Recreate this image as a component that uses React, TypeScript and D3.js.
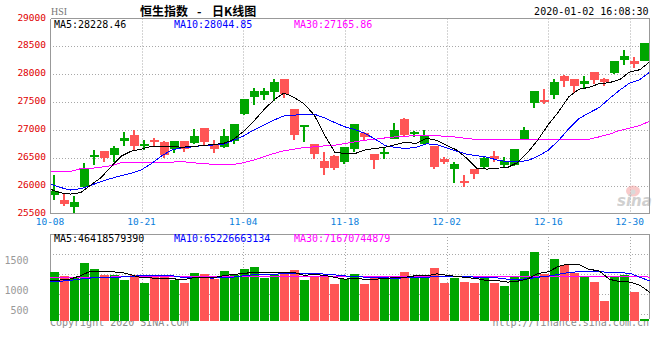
import * as d3 from 'd3';

// trading days shown on the K chart
const dates = [
  '10-08','10-09','10-10','10-11','10-14','10-15','10-16','10-17','10-18','10-21',
  '10-22','10-23','10-24','10-25','10-28','10-29','10-30','10-31','11-01','11-04',
  '11-05','11-06','11-07','11-08','11-11','11-12','11-13','11-14','11-15','11-18',
  '11-19','11-20','11-21','11-22','11-25','11-26','11-27','11-28','11-29','12-02',
  '12-03','12-04','12-05','12-06','12-09','12-10','12-11','12-12','12-13','12-16',
  '12-17','12-18','12-19','12-20','12-23','12-24','12-27','12-30','12-31','01-02',
];

const openPx = [
  25839,25750,25631,25988,26535,26625,26560,26809,26911,26726,
  26827,26786,26655,26804,26774,27036,26762,26702,26804,27292,
  27595,27631,27685,27911,27375,27065,26762,26446,26536,26435,
  26667,26952,26583,26590,26851,27196,26945,26762,26714,26488,
  26304,26065,26298,26345,26536,26375,26381,26833,27488,27536,
  27631,27964,27911,27827,28036,27917,28024,28256,28244,28238,
];
const highPx = [
  26196,25857,25821,26417,26643,26625,26714,26970,27000,26833,
  26869,26815,26815,26804,27018,27036,26821,27018,27120,27560,
  27756,27756,27911,27911,27375,27083,26762,26607,26554,26696,
  27107,26970,26583,26702,27125,27215,26990,27000,26714,26524,
  26429,26196,26298,26536,26625,26524,26661,27054,27696,27732,
  27911,27988,27911,27964,28036,27935,28232,28435,28310,28554,
];
const lowPx = [
  25750,25649,25524,25958,26375,26435,26435,26714,26643,26643,
  26702,26494,26595,26607,26750,26732,26595,26690,26762,27280,
  27458,27548,27530,27577,26833,26792,26476,26202,26292,26399,
  26607,26821,26310,26488,26845,26905,26880,26762,26310,26399,
  26060,25988,26131,26298,26435,26345,26357,26833,27399,27470,
  27560,27774,27667,27738,27821,27792,28000,28167,28113,28238,
];
const closePx = [
  25911,25684,25714,26327,26545,26506,26679,26863,26720,26734,
  26786,26565,26804,26667,26893,26792,26667,26905,27107,27554,
  27696,27696,27857,27643,26917,27075,26571,26327,26327,26696,
  27107,26881,26470,26600,27000,26911,26955,26893,26345,26435,
  26393,26055,26220,26500,26488,26446,26661,27000,27696,27500,
  27857,27881,27792,27875,27905,27863,28232,28321,28185,28554,
];

const ma5 = [
  25946,25881,25857,25881,26018,26149,26345,26536,26625,26661,
  26714,26708,26708,26696,26708,26726,26744,26760,26830,26975,
  27155,27360,27540,27667,27589,27470,27268,26911,26607,26583,
  26583,26649,26673,26696,26744,26786,26762,26857,26821,26732,
  26643,26494,26315,26304,26321,26333,26423,26607,26833,27101,
  27327,27595,27732,27768,27833,27851,27905,28042,28083,28228,
];
const ma10 = [
  26036,25976,25929,25952,26012,26077,26137,26185,26232,26292,
  26405,26542,26649,26684,26702,26726,26735,26744,26815,26893,
  27000,27089,27179,27256,27268,27286,27286,27220,27137,27060,
  27012,26940,26839,26720,26690,26673,26696,26756,26744,26684,
  26625,26571,26542,26518,26464,26435,26435,26458,26536,26643,
  26815,27024,27208,27310,27405,27565,27714,27845,27905,28045,
];
const ma30 = [
  26262,26262,26262,26310,26315,26339,26363,26417,26423,26423,
  26423,26429,26429,26440,26417,26405,26390,26387,26387,26417,
  26464,26524,26583,26631,26661,26690,26702,26720,26732,26762,
  26792,26821,26839,26863,26881,26893,26905,26905,26899,26893,
  26875,26851,26833,26830,26828,26826,26828,26830,26833,26833,
  26830,26828,26830,26839,26881,26929,26994,27036,27083,27166,
];

// turnover, 亿
const volume = [
  805,739,713,951,854,746,751,669,746,620,
  723,713,669,620,783,767,690,816,746,849,
  881,697,751,788,832,669,734,713,609,685,
  767,609,739,685,739,805,739,702,870,625,
  702,641,625,707,625,576,713,821,1131,772,
  1017,914,778,739,641,331,723,751,478,33,
];
const volMa5 = [
  658,669,685,739,813,801,803,795,752,707,
  702,694,694,669,702,710,707,736,761,774,
  796,798,785,793,790,747,756,747,712,682,
  702,677,682,697,708,715,741,734,770,747,
  728,708,692,659,659,635,650,689,774,803,
  891,930,922,844,818,681,643,636,584,464,
];
const volMa10 = [
  636,648,664,685,702,707,710,718,726,745,
  745,745,740,712,703,707,700,715,715,738,
  754,752,761,777,782,772,777,765,752,736,
  725,716,715,705,695,708,710,708,734,728,
  721,725,713,715,703,681,679,690,716,731,
  762,790,806,809,811,787,787,780,715,652,
];
const volMa30 = [
  713,714,714,716,717,718,718,719,720,720,
  721,721,722,722,723,723,724,724,725,725,
  726,726,727,727,727,728,728,728,728,728,
  727,727,726,726,726,725,725,725,726,726,
  725,725,724,724,723,722,722,722,724,725,
  727,729,730,731,731,727,726,725,722,717,
];

const priceTicks = [25500, 26000, 26500, 27000, 27500, 28000, 28500, 29000];
const dateTicks = ['10-08', '10-21', '11-04', '11-18', '12-02', '12-16', '12-30'];
const volTicks = [500, 1000, 1500];
const maLabels = ['MA5:28228.46', 'MA10:28044.85', 'MA30:27165.86'];
const volMaLabels = ['MA5:46418579390', 'MA10:65226663134', 'MA30:71670744879'];

const RED = '#ff5555';
const GREEN = '#00a600';
const MA_COLORS = ['#000000', '#0000ff', '#ff00ff'];
const GRID = '#a8a8a8';
const BORDER = '#999999';
const MONO = '"DejaVu Sans Mono", monospace';

const left = 50, right = 650;
const mainTop = 18.5, mainBottom = 214;
const volTop = 234, volBottom = 321;

export default function App() {
  const xBand = d3.scaleBand<string>().domain(dates).range([left, right]);
  const xPoint = d3.scalePoint<string>().domain(dates).range([left, right]);
  const py = d3.scaleLinear().domain([25500, 29000]).range([mainBottom, mainTop]);
  const vy = d3.scaleLinear().domain([0, 1420]).range([volBottom, volTop]);
  // sina's volume labels are not evenly spaced
  const volLabelY = d3.scaleLinear().domain([500, 1000, 1500]).range([310, 290, 260.3]);

  const bodyW = xBand.bandwidth() - 1;

  const priceLine = (vals: number[]) =>
    d3.line<number>().x((_, i) => xPoint(dates[i]) as number).y(v => py(v))(vals) || '';
  const volLine = (vals: number[]) =>
    d3.line<number>().x((_, i) => xPoint(dates[i]) as number).y(v => vy(v))(vals) || '';

  const gx = (d: string) => Math.round(xPoint(d) as number) + 0.5;

  return (
    <svg width={660} height={360} style={{ position: 'absolute', left: 0, top: 0, background: '#fff' }}>
      {/* footer texts, partly hidden by the volume panel */}
      <text x={left} y={326} fontFamily={MONO} fontSize={10} fill="#8a8a8a">Copyright 2020 SINA.COM</text>
      <text x={649} y={326} fontFamily={MONO} fontSize={10} fill="#8a8a8a" textAnchor="end">http://finance.sina.com.cn</text>

      {/* title row */}
      <text x={51} y={15} fontFamily='"Liberation Serif", serif' fontSize={11} fill="#777" textLength={16} lengthAdjust="spacingAndGlyphs">HSI</text>
      <text x={140} y={16} fontFamily='"Noto Sans CJK SC", sans-serif' fontSize={12} fontWeight="bold" fill="#000">恒生指数</text>
      <text x={197} y={16} fontFamily='"Noto Sans CJK SC", sans-serif' fontSize={12} fontWeight="bold" fill="#000">-</text>
      <text x={212} y={16} fontFamily='"Noto Sans CJK SC", sans-serif' fontSize={12} fontWeight="bold" fill="#000">日K线图</text>
      <text x={648.5} y={15} fontFamily={MONO} fontSize={10} fill="#000" textAnchor="end">2020-01-02 16:08:30</text>

      {/* main panel */}
      <rect x={left + 0.5} y={mainTop} width={right - left - 1} height={mainBottom - mainTop - 0.5} fill="#fff" />
      {priceTicks.slice(1, -1).map(t => (
        <line key={t} x1={left} x2={right} y1={Math.round(py(t)) + 0.5} y2={Math.round(py(t)) + 0.5}
          stroke={GRID} strokeDasharray="1,2" />
      ))}
      {dateTicks.slice(1).map(d => (
        <line key={d} x1={gx(d)} x2={gx(d)} y1={mainTop} y2={mainBottom} stroke={GRID} strokeDasharray="1,2" />
      ))}

      {/* sina watermark */}
      <g opacity={0.55}>
        <ellipse cx={633} cy={191} rx={7} ry={5.5} fill="#f4a0a0" />
        <circle cx={633} cy={192} r={2.5} fill="#bbb" />
        <text x={617} y={206} fontFamily='"DejaVu Sans", sans-serif' fontSize={15} fontWeight="bold" fontStyle="italic" fill="#aaa">sina</text>
      </g>

      {/* candles */}
      {dates.map((d, i) => {
        const o = openPx[i], c = closePx[i];
        const color = c >= o ? GREEN : RED;
        const x = xBand(d) as number;
        const yHi = Math.round(py(highPx[i]));
        const yLo = Math.round(py(lowPx[i]));
        let yT = Math.round(py(Math.max(o, c)));
        let h = Math.round(py(Math.min(o, c))) - yT;
        if (h < 2) { yT -= 1; h = 2; }
        return (
          <g key={d} shapeRendering="crispEdges">
            <rect x={x + 3} y={yHi} width={2} height={Math.max(1, yLo - yHi)} fill={color} />
            <rect x={x} y={yT} width={bodyW} height={h} fill={color} />
          </g>
        );
      })}

      {[ma30, ma10, ma5].map((vals, k) => (
        <path key={k} d={priceLine(vals)} fill="none" stroke={MA_COLORS[2 - k]} strokeWidth={1} shapeRendering="crispEdges" />
      ))}

      <path d={`M${left + 0.5},${mainTop}V${mainBottom - 0.5}H${right - 0.5}V${mainTop}H${left + 0.5}`}
        fill="none" stroke={BORDER} shapeRendering="crispEdges" />

      {maLabels.map((t, k) => (
        <text key={t} x={left + 4 + k * 120} y={27.5} fontFamily={MONO} fontSize={10} fill={MA_COLORS[k]}>{t}</text>
      ))}

      {priceTicks.map(t => (
        <text key={t} x={46} y={py(t) + 2} fontFamily={MONO} fontSize={9.5} fill="#e00000" textAnchor="end">{t}</text>
      ))}
      {dateTicks.map(d => (
        <text key={d} x={xPoint(d) as number} y={225} fontFamily={MONO} fontSize={9.5} fill="#0a80dc" textAnchor="middle">{d}</text>
      ))}

      {/* volume panel */}
      <rect x={left + 0.5} y={volTop + 0.5} width={right - left - 1} height={volBottom - volTop - 0.5} fill="#fff" />
      {d3.range(1, 5).map(k => (
        <line key={k} x1={left} x2={right} y1={volTop + k * 20 + 0.5} y2={volTop + k * 20 + 0.5}
          stroke={GRID} strokeDasharray="1,2" />
      ))}
      {dateTicks.slice(1).map(d => (
        <line key={d} x1={gx(d)} x2={gx(d)} y1={volTop} y2={volBottom} stroke={GRID} strokeDasharray="1,2" />
      ))}
      <path d={`M${left + 0.5},${volBottom}V${volTop + 0.5}H${right - 0.5}V${volBottom - 2}`}
        fill="none" stroke={BORDER} shapeRendering="crispEdges" />

      {dates.map((d, i) => (
        <rect key={d} x={xBand(d) as number} y={vy(volume[i])} width={bodyW}
          height={volBottom - vy(volume[i])} fill={closePx[i] >= openPx[i] ? GREEN : RED} shapeRendering="crispEdges" />
      ))}

      {[volMa30, volMa10, volMa5].map((vals, k) => (
        <path key={k} d={volLine(vals)} fill="none" stroke={MA_COLORS[2 - k]} strokeWidth={1} shapeRendering="crispEdges" />
      ))}

      {volMaLabels.map((t, k) => (
        <text key={t} x={left + 4 + k * 120} y={241.5} fontFamily={MONO} fontSize={10} fill={MA_COLORS[k]}>{t}</text>
      ))}
      {volTicks.map(t => (
        <text key={t} x={28.5} y={volLabelY(t) + 3.5} fontFamily={MONO} fontSize={10} fill="#999" textAnchor="end">{t}</text>
      ))}
    </svg>
  );
}
